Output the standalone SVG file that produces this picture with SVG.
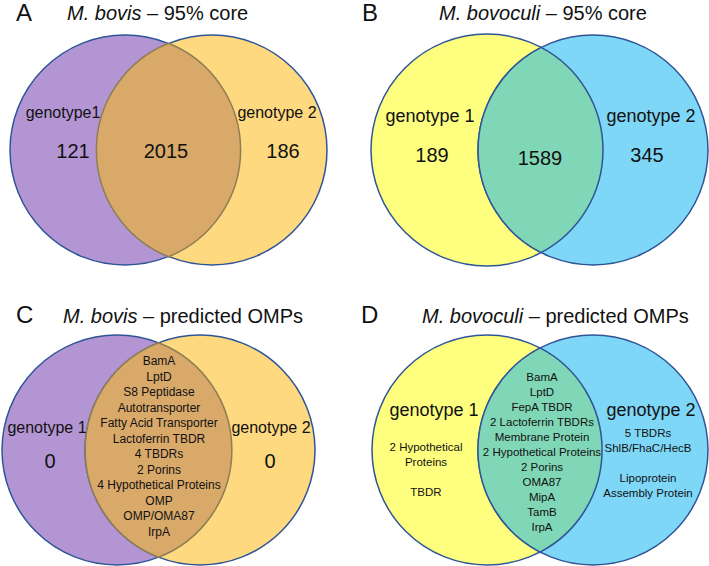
<svg xmlns="http://www.w3.org/2000/svg" width="709" height="566" viewBox="0 0 709 566">
<style>
text{font-family:"Liberation Sans",Arial,sans-serif;fill:#111;text-anchor:middle}
.lbl{font-size:24px;text-anchor:start}
.ttl{font-size:20px;text-anchor:start}
.g16{font-size:16px}
.g18{font-size:18px}
.num{font-size:20px}
.lst{font-size:12px}
.lsd{font-size:11.5px}
.c{stroke:#2F5597;stroke-width:1.5}
.purple{fill:#B495D3}
.gold{fill:#FFD97F}
.tan{fill:#D9A96A;stroke:#8E7D55;stroke-width:1.5}
.lyel{fill:#FFFF7F}
.blue{fill:#7FD7F7}
.teal{fill:#80D7B7;stroke:#2F5597;stroke-width:1.5}
</style>
<rect width="709" height="566" fill="#fff"/>

<g id="panelA">
<text class="lbl" x="16" y="21">A</text>
<text class="ttl" x="67" y="20"><tspan font-style="italic">M. bovis</tspan> – 95% core</text>
<circle id="A-g1" class="c purple" cx="125" cy="150" r="115"/>
<circle id="A-g2" class="c gold" cx="212" cy="150" r="115"/>
<path id="A-core" class="tan" d="M168.5,43.3 A115,115 0 0 1 168.5,256.7 A115,115 0 0 1 168.5,43.3 Z"/>
<text class="g16" x="63" y="118">genotype1</text>
<text class="g16" x="277" y="118">genotype 2</text>
<text class="num" x="73" y="158">121</text>
<text class="num" x="166" y="158">2015</text>
<text class="num" x="283" y="158">186</text>
</g>

<g id="panelB">
<text class="lbl" x="362" y="21">B</text>
<text class="ttl" x="439" y="20"><tspan font-style="italic">M. bovoculi</tspan> – 95% core</text>
<circle id="B-g1" class="c lyel" cx="487" cy="150" r="116"/>
<circle id="B-g2" class="c blue" cx="593" cy="150" r="115"/>
<path id="B-core" class="teal" d="M541.1,47.4 A116,116 0 0 1 541.1,252.6 A115,115 0 0 1 541.1,47.4 Z"/>
<text class="g18" x="430" y="122">genotype 1</text>
<text class="g18" x="651" y="122">genotype 2</text>
<text class="num" x="432" y="162">189</text>
<text class="num" x="540" y="165">1589</text>
<text class="num" x="647" y="162">345</text>
</g>

<g id="panelC">
<text class="lbl" x="16" y="323">C</text>
<text class="ttl" x="63" y="323"><tspan font-style="italic">M. bovis</tspan> – predicted OMPs</text>
<circle id="C-g1" class="c purple" cx="117" cy="450" r="115"/>
<circle id="C-g2" class="c gold" cx="200" cy="450" r="115"/>
<path id="C-core" class="tan" d="M158.5,342.8 A115,115 0 0 1 158.5,557.2 A115,115 0 0 1 158.5,342.8 Z"/>
<text class="g16" x="47" y="433">genotype 1</text>
<text class="g16" x="271" y="433">genotype 2</text>
<text class="num" x="50" y="468">0</text>
<text class="num" x="270" y="468">0</text>
<g class="lst">
<text x="159" y="365">BamA</text>
<text x="159" y="380.5">LptD</text>
<text x="159" y="396">S8 Peptidase</text>
<text x="159" y="411.5">Autotransporter</text>
<text x="159" y="427">Fatty Acid Transporter</text>
<text x="159" y="442.5">Lactoferrin TBDR</text>
<text x="159" y="458">4 TBDRs</text>
<text x="159" y="473.5">2 Porins</text>
<text x="159" y="489">4 Hypothetical Proteins</text>
<text x="159" y="504.5">OMP</text>
<text x="159" y="520">OMP/OMA87</text>
<text x="159" y="535.5">IrpA</text>
</g>
</g>

<g id="panelD">
<text class="lbl" x="361" y="323">D</text>
<text class="ttl" x="422" y="323"><tspan font-style="italic">M. bovoculi</tspan> – predicted OMPs</text>
<circle id="D-g1" class="c lyel" cx="487" cy="450" r="115"/>
<circle id="D-g2" class="c blue" cx="593" cy="450" r="115"/>
<path id="D-core" class="teal" d="M540,347.9 A115,115 0 0 1 540,552.1 A115,115 0 0 1 540,347.9 Z"/>
<text class="g18" x="434" y="416">genotype 1</text>
<text class="g18" x="651" y="416">genotype 2</text>
<g class="lsd">
<text x="426" y="451">2 Hypothetical</text>
<text x="426" y="466">Proteins</text>
<text x="426" y="496">TBDR</text>
<text x="542" y="381">BamA</text>
<text x="542" y="396">LptD</text>
<text x="542" y="411">FepA TBDR</text>
<text x="542" y="426">2 Lactoferrin TBDRs</text>
<text x="542" y="441">Membrane Protein</text>
<text x="542" y="456">2 Hypothetical Proteins</text>
<text x="542" y="471">2 Porins</text>
<text x="542" y="486">OMA87</text>
<text x="542" y="501">MipA</text>
<text x="542" y="516">TamB</text>
<text x="542" y="531">IrpA</text>
<text x="648" y="437">5 TBDRs</text>
<text x="648" y="452">ShlB/FhaC/HecB</text>
<text x="648" y="482">Lipoprotein</text>
<text x="648" y="497">Assembly Protein</text>
</g>
</g>
</svg>
